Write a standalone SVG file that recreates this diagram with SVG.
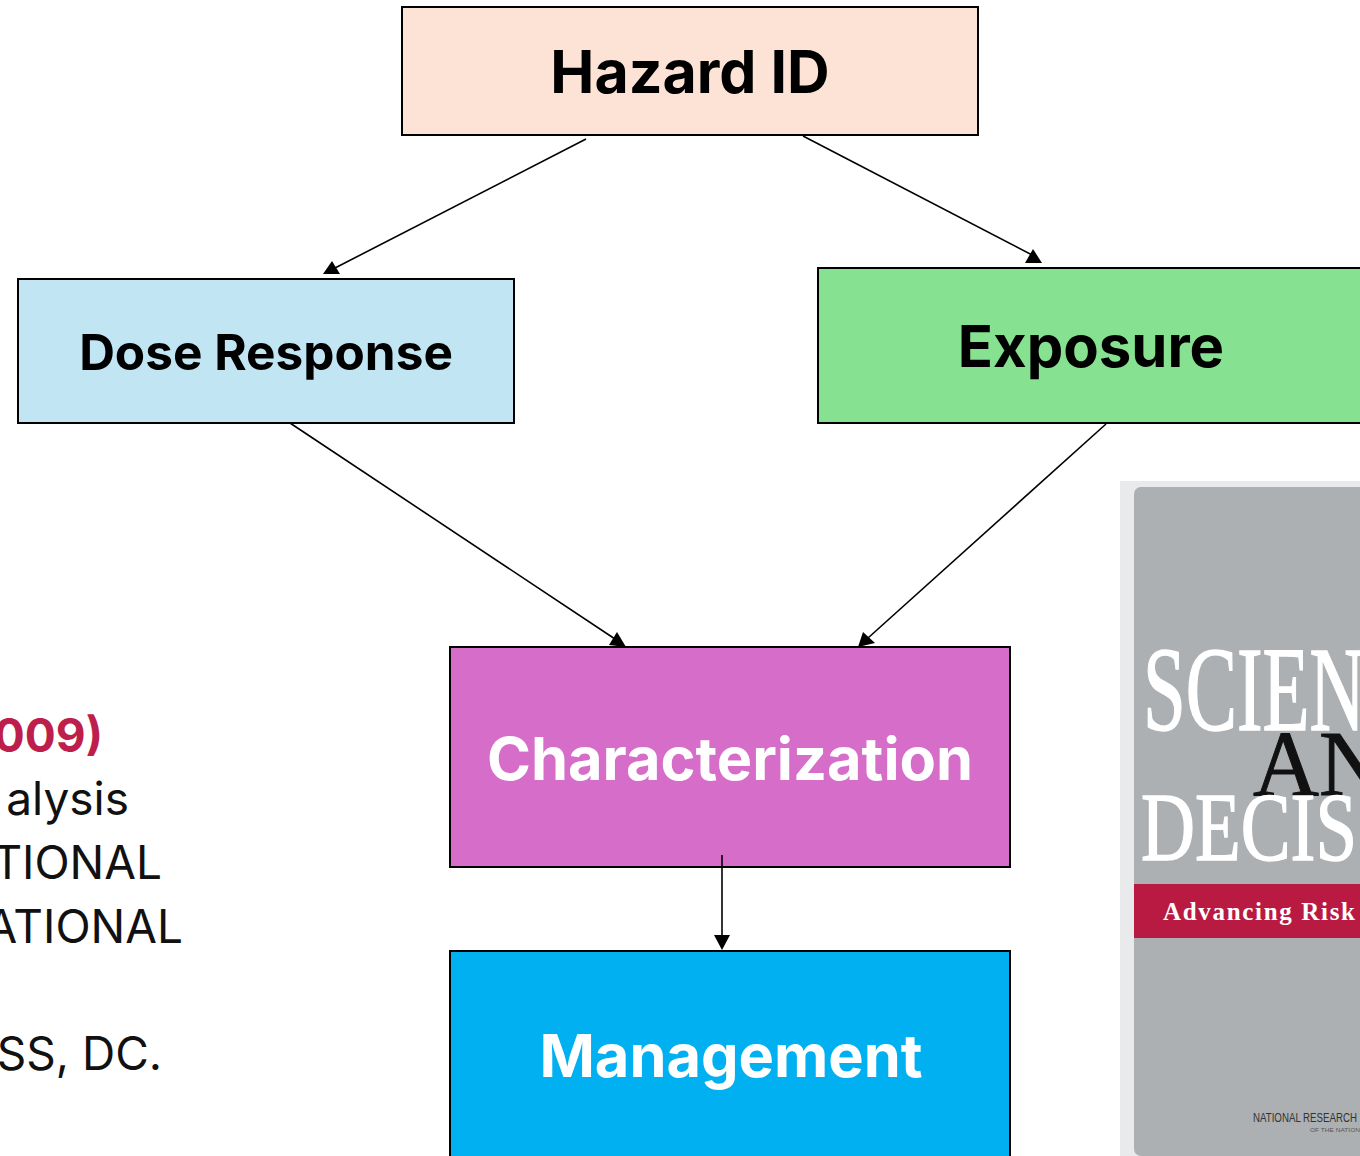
<svg xmlns="http://www.w3.org/2000/svg" width="1360" height="1156" viewBox="0 0 1360 1156">
<style>
.box{stroke:#000;stroke-width:2}
.lbl{font-family:Inter,"Open Sans","Liberation Sans",sans-serif;font-weight:700;text-anchor:middle}
.ref{font-family:Inter,"Open Sans","Liberation Sans",sans-serif;font-size:46px;text-anchor:end;fill:#111}
.conn line{stroke:#000;stroke-width:1.6}
.conn polygon{fill:#000}
.serif{font-family:"Liberation Serif","Times New Roman",serif}
</style>
<rect width="1360" height="1156" fill="#fff"/>

<g id="reference-text">
<text class="ref" x="103" y="752" font-weight="700" style="fill:#be1e4b">009)</text>
<text class="ref" x="129" y="815">alysis</text>
<text class="ref" x="162" y="879">TIONAL</text>
<text class="ref" x="183" y="943">ATIONAL</text>
<text class="ref" x="162" y="1070">SS, DC.</text>
</g>

<g id="book-cover">
<rect x="1120" y="481" width="240" height="675" fill="#e8eaec"/>
<rect x="1134" y="487" width="240" height="669" rx="7" fill="#adb0b2"/>
<text class="serif" x="1143" y="730" font-size="120" fill="#fff" stroke="#fff" stroke-width="1.5" textLength="222" lengthAdjust="spacingAndGlyphs">SCIEN</text>
<text class="serif" x="1253" y="795" font-size="94" fill="#111" stroke="#111" stroke-width="1" textLength="132" lengthAdjust="spacingAndGlyphs">AN</text>
<text class="serif" x="1141" y="860" font-size="98" fill="#fff" stroke="#fff" stroke-width="1.5" textLength="216" lengthAdjust="spacingAndGlyphs">DECIS</text>
<rect x="1134" y="884" width="226" height="54" fill="#b91a42"/>
<text class="serif" x="1163" y="920" font-size="25" font-weight="700" fill="#fff" textLength="192" lengthAdjust="spacing">Advancing Risk</text>
<text x="1253" y="1122" font-family="'Liberation Sans Narrow','Liberation Sans',sans-serif" font-size="12" fill="#333" textLength="104" lengthAdjust="spacingAndGlyphs">NATIONAL RESEARCH</text>
<text x="1310" y="1132" font-family="'Liberation Sans',sans-serif" font-size="6" fill="#555" textLength="50" lengthAdjust="spacingAndGlyphs">OF THE NATION</text>
</g>

<g id="node-hazard">
<rect class="box" x="402" y="7" width="576" height="128" fill="#fce3d6"/>
<text class="lbl" x="690" y="93" font-size="59">Hazard ID</text>
</g>
<g id="node-dose">
<rect class="box" x="18" y="279" width="496" height="144" fill="#c2e5f4"/>
<text class="lbl" x="266" y="370" font-size="49.5">Dose Response</text>
</g>
<g id="node-exposure">
<rect class="box" x="818" y="268" width="560" height="155" fill="#86e290"/>
<text class="lbl" x="1091" y="367" font-size="58">Exposure</text>
</g>
<g id="node-characterization">
<rect class="box" x="450" y="647" width="560" height="220" fill="#d66dc9"/>
<text class="lbl" x="730" y="780" font-size="59.5" fill="#fff">Characterization</text>
</g>
<g id="node-management">
<rect class="box" x="450" y="951" width="560" height="220" fill="#00b0f0"/>
<text class="lbl" x="731" y="1077" font-size="59.5" fill="#fff">Management</text>
</g>

<g id="connectors" class="conn">
<line x1="586" y1="139" x2="335" y2="268"/>
<polygon points="332,261 323,274 340,274"/>
<line x1="803" y1="136" x2="1036" y2="257"/>
<polygon points="1033,249 1025,263 1042,263"/>
<line x1="290" y1="423" x2="615" y2="639"/>
<polygon points="617,632 609,645 626,647"/>
<line x1="1106" y1="424" x2="868" y2="638"/>
<polygon points="863,632 858,647 875,643"/>
<line x1="722" y1="855" x2="722" y2="937"/>
<polygon points="714,935 730,935 722,950"/>
</g>
</svg>
